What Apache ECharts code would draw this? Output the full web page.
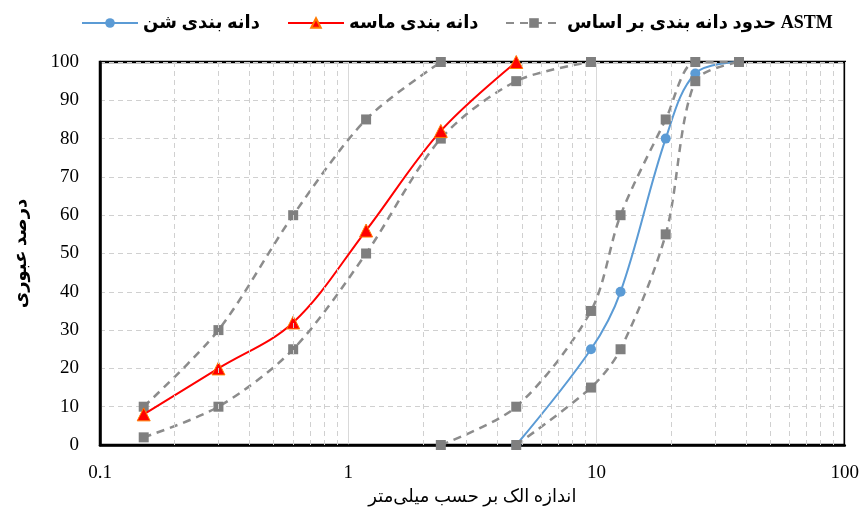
<!DOCTYPE html>
<html>
<head>
<meta charset="utf-8">
<script src="https://cdn.jsdelivr.net/npm/echarts@6/dist/echarts.min.js"></script>
<style>
  html, body { margin: 0; padding: 0; background: #fff; }
  #chart { width: 862px; height: 511px; }
</style>
</head>
<body>
<div id="chart"></div>
<script>
// اندازه الک (میلی‌متر)
var sandSieves = [0.15, 0.3, 0.6, 1.18, 2.36, 4.75];
var sandPassing = [8, 20, 32, 56, 82, 100];           // دانه بندی ماسه

var gravelSieves = [4.75, 9.5, 12.5, 19, 25, 37.5];
var gravelPassing = [0, 25, 40, 80, 97, 100];          // دانه بندی شن

// حدود ASTM
var sandUpperSieves = [0.15, 0.3, 0.6, 1.18, 2.36];
var sandUpperLimit = [10, 30, 60, 85, 100];
var sandLowerSieves = [0.15, 0.3, 0.6, 1.18, 2.36, 4.75, 9.5];
var sandLowerLimit = [2, 10, 25, 50, 80, 95, 100];
var gravelUpperSieves = [2.36, 4.75, 9.5, 12.5, 19, 25, 37.5];
var gravelUpperLimit = [0, 10, 35, 60, 85, 100, 100];
var gravelLowerSieves = [4.75, 9.5, 12.5, 19, 25, 37.5];
var gravelLowerLimit = [0, 15, 25, 55, 95, 100];

// خطوط فرعی شبکه روی محور لگاریتمی
var minorGridX = [0.2, 0.3, 0.4, 0.5, 0.6, 0.7, 0.8, 0.9,
                  2, 3, 4, 5, 6, 7, 8, 9,
                  20, 30, 40, 50, 60, 70, 80, 90];

var nameGravel = 'دانه بندی شن';
var nameSand = 'دانه بندی ماسه';
var nameAstm = 'حدود دانه بندی بر اساس ASTM';

function pairs(xs, ys) {
    var out = [];
    for (var i = 0; i < xs.length; i++) out.push([xs[i], ys[i]]);
    return out;
}

var fontFam = "'Liberation Serif', 'DejaVu Sans', serif";
var gray = '#7f7f7f';

function astmSeries(xs, ys) {
    return {
        name: nameAstm,
        type: 'line',
        z: 3,
        smooth: 0.3,
        symbol: 'rect',
        symbolSize: 10,
        itemStyle: { color: gray },
        lineStyle: { color: '#8c8c8c', width: 2.5, type: [8, 6] },
        data: pairs(xs, ys)
    };
}

var legendText = { fontFamily: fontFam, fontSize: 18, fontWeight: 'bold', color: '#000' };

var chart = echarts.init(document.getElementById('chart'));

chart.setOption({
    animation: false,
    legend: [
        { data: [nameGravel], left: 76, top: 9, itemWidth: 56, itemHeight: 12, itemGap: 8, textStyle: legendText },
        { data: [nameSand], left: 282, top: 9, itemWidth: 56, itemHeight: 12, itemGap: 8, textStyle: legendText },
        { data: [nameAstm], left: 500, top: 9, itemWidth: 56, itemHeight: 12, itemGap: 8, textStyle: legendText }
    ],
    grid: {
        left: 100,
        right: 17,
        top: 62,
        bottom: 66,
        show: true,
        borderColor: '#000',
        borderWidth: 2.5
    },
    xAxis: {
        type: 'log',
        logBase: 10,
        min: 0.1,
        max: 100,
        name: 'اندازه الک بر حسب میلی‌متر',
        nameLocation: 'middle',
        nameGap: 43,
        nameTextStyle: { fontFamily: fontFam, fontSize: 18, color: '#000' },
        axisLine: { show: true, lineStyle: { color: '#000', width: 2.5 } },
        axisTick: { show: false },
        axisLabel: {
            margin: 19,
            fontFamily: fontFam,
            fontSize: 19,
            color: '#000',
            formatter: function (v) { return String(v); }
        },
        splitLine: { show: true, lineStyle: { color: '#d9d9d9', width: 1, type: 'solid' } }
    },
    yAxis: {
        type: 'value',
        min: 0,
        max: 100,
        interval: 10,
        name: 'درصد عبوری',
        nameLocation: 'middle',
        nameGap: 70,
        nameTextStyle: { fontFamily: fontFam, fontSize: 18, fontWeight: 'bold', color: '#000' },
        axisLine: { show: true, lineStyle: { color: '#000', width: 2.5 } },
        axisTick: { show: false },
        axisLabel: { margin: 21, fontFamily: fontFam, fontSize: 19, color: '#000' },
        splitLine: { show: true, lineStyle: { color: '#d0d0d0', width: 1, type: [5, 4] } }
    },
    series: [
        {
            // خطوط فرعی عمودی
            name: 'minor',
            type: 'line',
            data: [],
            z: 1,
            silent: true,
            markLine: {
                silent: true,
                symbol: 'none',
                label: { show: false },
                animation: false,
                lineStyle: { color: '#d0d0d0', width: 1, type: [5, 4] },
                data: minorGridX.map(function (v) { return { xAxis: v }; })
            }
        },
        {
            name: nameGravel,
            type: 'line',
            z: 2,
            smooth: 0.35,
            symbol: 'circle',
            symbolSize: 10,
            itemStyle: { color: '#5b9bd5' },
            lineStyle: { color: '#5b9bd5', width: 2 },
            data: pairs(gravelSieves, gravelPassing)
        },
        astmSeries(sandUpperSieves, sandUpperLimit),
        astmSeries(sandLowerSieves, sandLowerLimit),
        astmSeries(gravelUpperSieves, gravelUpperLimit),
        astmSeries(gravelLowerSieves, gravelLowerLimit),
        {
            name: nameSand,
            type: 'line',
            z: 4,
            smooth: 0.35,
            symbol: 'triangle',
            symbolSize: 13,
            itemStyle: { color: '#ff0000', borderColor: '#ff7a00', borderWidth: 1 },
            lineStyle: { color: '#ff0000', width: 2 },
            data: pairs(sandSieves, sandPassing)
        }
    ]
});
</script>
</body>
</html>
